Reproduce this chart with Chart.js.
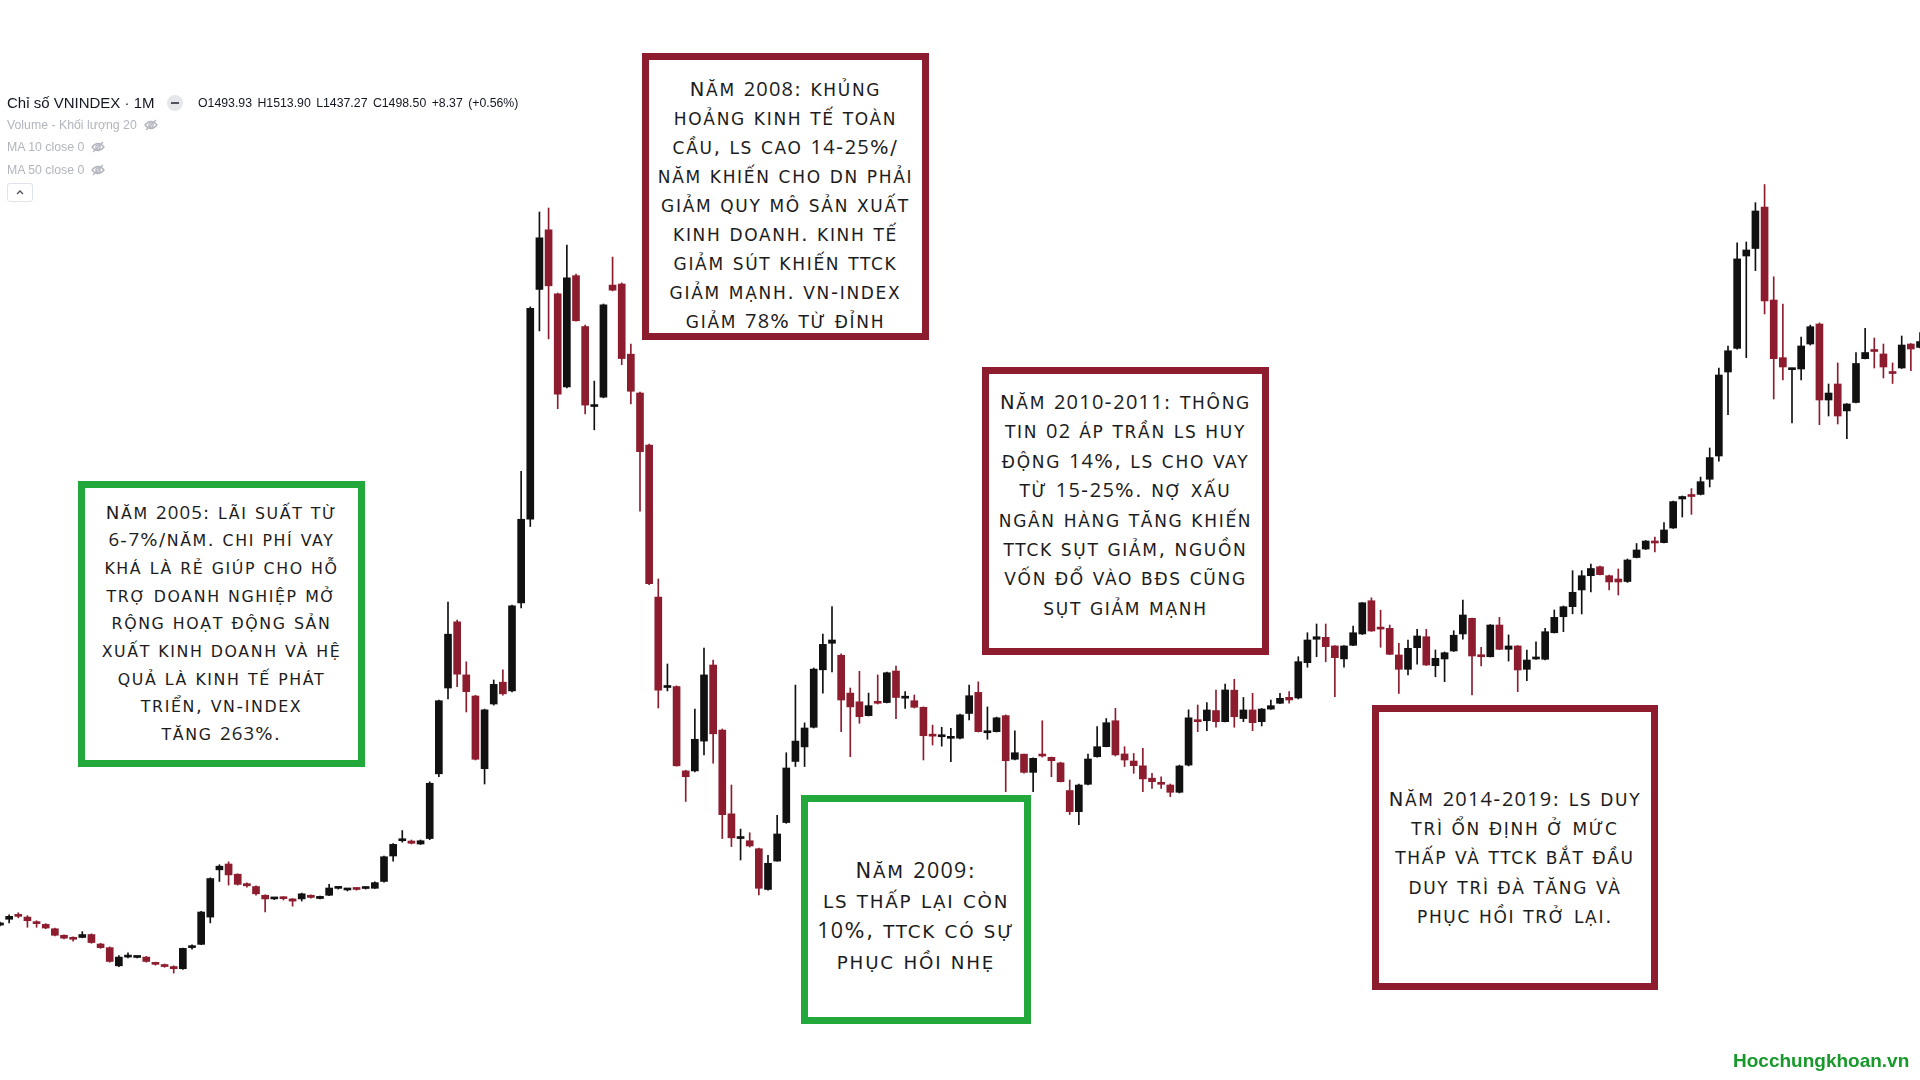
<!DOCTYPE html>
<html lang="vi">
<head>
<meta charset="utf-8">
<title>Chỉ số VNINDEX 1M</title>
<script src="https://cdn.jsdelivr.net/npm/chart.js@4.4.1/dist/chart.umd.min.js"></script>
<style>
  html, body { margin: 0; padding: 0; background: #fff; overflow: hidden; }
  #wrap { position: absolute; left: 0; top: 0; width: 1920px; height: 1080px; }
  .legend { position: absolute; font-family: "Liberation Sans", Arial, sans-serif; white-space: nowrap; }
  .legend.title { left: 7px; top: 94px; font-size: 15px; color: #131722; }
  .legend.ohlc { left: 198px; top: 96px; font-size: 12.3px; color: #131722; word-spacing: 2px; }
  .legend.sub { left: 7px; font-size: 12.3px; color: #b2b5be; }
  .legend svg { vertical-align: -3px; margin-left: 7px; }
  .dot { position: absolute; left: 167px; top: 95px; width: 16px; height: 16px; border-radius: 50%; background: #e6e7ea; }
  .dot::after { content: ""; position: absolute; left: 4px; top: 7px; width: 8px; height: 2px; background: #50535e; }
  .toggle { position: absolute; left: 7px; top: 183px; width: 26px; height: 19px; border: 1px solid #e0e3eb; border-radius: 3px; box-sizing: border-box; }
  .box { position: absolute; box-sizing: border-box; border: 7px solid; background: #fff; }
  .box.red { border-color: #8d1c2e; }
  .box.green { border-color: #23a83c; }
  .txt { position: absolute; left: 0; right: 0; text-align: center; color: #1c1c1c;
         font-family: "DejaVu Sans", sans-serif; font-size: 19.5px; letter-spacing: 1.7px;
         white-space: nowrap; }
  .txt .sc { font-size: 17px; line-height: 0; }
  .txt .num { font-family: "Open Sans", sans-serif; font-size: 20px; letter-spacing: 1.2px; line-height: 0; }
  .txt.small { font-size: 18.2px; letter-spacing: 1.6px; }
  .txt.small .sc { font-size: 15.8px; }
  .txt.small .num { font-size: 18.6px; letter-spacing: 1.1px; }
  .txt.big { font-size: 21px; letter-spacing: 1.8px; }
  .txt.big .sc { font-size: 18.3px; }
  .txt.big .num { font-size: 21.5px; letter-spacing: 1.3px; }
  .mark { position: absolute; left: 1733px; top: 1050px; font-family: "Liberation Sans", Arial, sans-serif;
          font-weight: bold; font-size: 19px; color: #17992b; }
</style>
</head>
<body>
<div id="wrap"><canvas id="chart"></canvas></div>

<div class="legend title">Chỉ số VNINDEX · 1M</div>
<div class="dot"></div>
<div class="legend ohlc">O1493.93 H1513.90 L1437.27 C1498.50 +8.37 (+0.56%)</div>
<div class="legend sub" style="top:118px">Volume - Khối lượng 20<svg width="14" height="14" viewBox="0 0 14 14"><path d="M1 7 Q7 0 13 7 Q7 14 1 7Z" fill="none" stroke="#b2b5be" stroke-width="1.3"/><circle cx="7" cy="7" r="2.2" fill="none" stroke="#b2b5be" stroke-width="1.3"/><path d="M2 12 L12 2" stroke="#b2b5be" stroke-width="1.3"/></svg></div>
<div class="legend sub" style="top:140px">MA 10 close 0<svg width="14" height="14" viewBox="0 0 14 14"><path d="M1 7 Q7 0 13 7 Q7 14 1 7Z" fill="none" stroke="#b2b5be" stroke-width="1.3"/><circle cx="7" cy="7" r="2.2" fill="none" stroke="#b2b5be" stroke-width="1.3"/><path d="M2 12 L12 2" stroke="#b2b5be" stroke-width="1.3"/></svg></div>
<div class="legend sub" style="top:163px">MA 50 close 0<svg width="14" height="14" viewBox="0 0 14 14"><path d="M1 7 Q7 0 13 7 Q7 14 1 7Z" fill="none" stroke="#b2b5be" stroke-width="1.3"/><circle cx="7" cy="7" r="2.2" fill="none" stroke="#b2b5be" stroke-width="1.3"/><path d="M2 12 L12 2" stroke="#b2b5be" stroke-width="1.3"/></svg></div>
<div class="toggle"><svg width="24" height="17" viewBox="0 0 24 17"><path d="M9 10 L12 7 L15 10" fill="none" stroke="#50535e" stroke-width="1.4"/></svg></div>

<div class="box green" style="left:78px; top:481px; width:287px; height:286px;">
  <div class="txt small" style="top:10.5px; line-height:27.7px;">NĂM 2005: LÃI SUẤT TỪ<br>6-7%/NĂM. CHI PHÍ VAY<br>KHÁ LÀ RẺ GIÚP CHO HỖ<br>TRỢ DOANH NGHIỆP MỞ<br>RỘNG HOẠT ĐỘNG SẢN<br>XUẤT KINH DOANH VÀ HỆ<br>QUẢ LÀ KINH TẾ PHÁT<br>TRIỂN, VN-INDEX<br>TĂNG 263%.</div>
</div>

<div class="box red" style="left:642px; top:53px; width:287px; height:287px;">
  <div class="txt" style="top:15px; line-height:29px;">NĂM 2008: KHỦNG<br>HOẢNG KINH TẾ TOÀN<br>CẦU, LS CAO 14-25%/<br>NĂM KHIẾN CHO DN PHẢI<br>GIẢM QUY MÔ SẢN XUẤT<br>KINH DOANH. KINH TẾ<br>GIẢM SÚT KHIẾN TTCK<br>GIẢM MẠNH. VN-INDEX<br>GIẢM 78% TỪ ĐỈNH</div>
</div>

<div class="box green" style="left:801px; top:795px; width:230px; height:229px;">
  <div class="txt big" style="top:54px; line-height:30.2px;">NĂM 2009:<br>LS THẤP LẠI CÒN<br>10%, TTCK CÓ SỰ<br>PHỤC HỒI NHẸ</div>
</div>

<div class="box red" style="left:982px; top:367px; width:287px; height:288px;">
  <div class="txt" style="top:14px; line-height:29.4px;">NĂM 2010-2011: THÔNG<br>TIN 02 ÁP TRẦN LS HUY<br>ĐỘNG 14%, LS CHO VAY<br>TỪ 15-25%. NỢ XẤU<br>NGÂN HÀNG TĂNG KHIẾN<br>TTCK SỤT GIẢM, NGUỒN<br>VỐN ĐỔ VÀO BĐS CŨNG<br>SỤT GIẢM MẠNH</div>
</div>

<div class="box red" style="left:1372px; top:705px; width:286px; height:285px;">
  <div class="txt" style="top:72.5px; line-height:29.4px;">NĂM 2014-2019: LS DUY<br>TRÌ ỔN ĐỊNH Ở MỨC<br>THẤP VÀ TTCK BẮT ĐẦU<br>DUY TRÌ ĐÀ TĂNG VÀ<br>PHỤC HỒI TRỞ LẠI.</div>
</div>

<div class="mark">Hocchungkhoan.vn</div>

<script>
// VN-Index monthly candles, Mar 2002 -> Sep 2019
const startYear = 2002
const startMonth = 3

const opens = [
  184, 192, 197, 195, 188, 185, 179, 170, 166, 167,
  171, 158, 153, 128, 140, 139.5, 140, 132, 129.5, 127,
  124, 153, 157.5, 195, 260, 268, 254, 241, 237, 225,
  220, 221, 220, 220, 225, 220.5, 225, 234.5, 232.3, 233.7,
  234.3, 234.6, 244, 279, 300, 299.6, 295.5, 303, 392, 510,
  601, 528, 499, 399, 488, 518, 506, 627, 742, 1058,
  1140, 1052, 924, 1077, 1007, 897, 910, 1064, 1065.5, 969,
  915.6, 844, 635, 510.7, 512, 396, 396, 437, 541.6, 452,
  337, 303, 300, 289, 233, 272, 325, 409, 429, 456,
  535, 571.5, 555, 503, 491, 472, 491, 490, 533.4, 496,
  492.5, 483.5, 444.5, 443, 440.8, 441, 475, 504, 448.5, 450,
  472, 412, 419, 394, 418, 414.7, 407, 369, 340, 377.6,
  415.5, 429.3, 465, 419.3, 409.6, 403, 386, 380, 376.6, 366.6,
  404, 466, 465, 479, 463.7, 507, 468, 479.8, 463.7, 481,
  489, 497.2, 496.3, 544.8, 577, 579.7, 567.8, 550, 568.7, 584.3,
  630, 592, 592, 555.4, 535.7, 565.4, 580.5, 540.7, 549.9, 560.9,
  584.3, 605.8, 554, 553, 596.6, 563.2, 567.8, 535.7, 549.9, 549.5,
  586, 608, 621.8, 644.8, 664.4, 676.7, 664.4, 659.9, 656.4, 689.4,
  701.1, 712.1, 709.9, 730, 769.9, 774.7, 776.2, 797, 829, 944.5,
  977, 1104, 1114.3, 1171.4, 1043.5, 964.2, 947.7, 948.6, 983, 1010.5,
  906, 928, 891, 902.6, 962.8, 975, 969.3, 943.8, 950, 983,
  978.3
]

const highs = [
  188, 198, 201, 197, 190, 186, 180, 170.5, 168, 175,
  172, 159, 154, 142, 146, 141, 141, 133, 130.5, 128,
  152.5, 157, 203, 249, 267, 271, 254.5, 242, 238, 225.5,
  221.5, 223, 220.5, 228, 225.5, 224, 240, 236, 234.5, 235,
  236.5, 243.5, 279, 296, 314, 301, 301, 381, 493.5, 628,
  603.5, 546, 500, 481, 521, 535, 624, 808, 1034, 1164.5,
  1170, 1053, 1119, 1079, 1009, 932, 1038, 1102.5, 1067, 983,
  917, 845.5, 660, 543, 513, 397, 481, 565, 548.5, 453.6,
  376.6, 316, 311, 290, 280, 335, 421, 514, 462, 537.5,
  584, 622, 557, 510, 533, 503, 528, 532, 540.3, 505,
  500.4, 484, 459, 456, 454.6, 474, 514, 518.5, 484, 470,
  473, 451, 419.3, 414, 465, 415.1, 408, 383.5, 378, 419,
  457, 468, 482, 429.3, 420, 427, 392.7, 388, 378, 404,
  480, 486.6, 490, 507, 515.5, 522, 497, 502.7, 481.8, 493.5,
  502.7, 505, 553, 586, 598, 598, 568.4, 568.4, 595.3, 627.6,
  634, 617, 596.6, 571.5, 576, 590.7, 590.7, 562.3, 559.5, 588.8,
  631, 606.3, 566, 597.3, 607.2, 583, 568.4, 562.3, 573.5, 592,
  617.3, 622.8, 671.3, 671.3, 680.5, 677.8, 665.4, 673.6, 687.4, 708.7,
  712.8, 717.6, 737.6, 767.1, 774, 784.2, 800, 840, 950, 980.3,
  1122, 1123.3, 1177.3, 1202.3, 1075.4, 1038, 950, 992.6, 1009, 1012,
  928, 957, 901.2, 971.3, 1004.4, 991.3, 983, 957, 994, 983.7,
  998.8
]

const lows = [
  183, 187, 194, 181, 181, 179, 169, 165, 162, 166.5,
  159, 152, 133, 127, 139, 139, 133, 129, 126, 118,
  123, 151, 157, 187, 244, 239, 239, 236, 225, 202,
  219, 218.5, 210, 217, 221, 220, 224.5, 233.5, 231, 232,
  233.5, 234.4, 243, 272, 298, 295.5, 294.8, 301.5, 388, 495,
  512, 477, 411, 378, 486.5, 500, 504.5, 620, 732, 1001,
  990, 894, 922.5, 1014.5, 887, 865, 909, 1056, 954.5, 900.5,
  753, 652, 482.5, 506, 402.5, 354, 394.5, 418, 406.5, 303,
  292, 273.5, 291.4, 225.4, 232, 271.8, 324, 402, 402, 455,
  503, 532, 450, 415.5, 461.5, 471.5, 488, 489.4, 468, 482,
  482.5, 411, 431.6, 430, 408.7, 440, 466, 449.5, 439.5, 449.5,
  367.4, 411, 393, 367.4, 415, 388, 380.8, 336, 322, 376.6,
  415, 429, 416.5, 402, 392.7, 367.4, 372, 372, 360.5, 365.6,
  402.8, 450, 451.3, 456, 463.3, 456, 463.7, 451.3, 457.8, 480.4,
  488.4, 489, 494.9, 538.5, 553, 546, 498, 538.5, 568.2, 583.6,
  587.8, 566, 555.8, 502.7, 528, 542.6, 540.9, 525.5, 518.7, 560.2,
  577, 500.4, 540.3, 552.6, 562.7, 547, 505, 520, 549.2, 548.5,
  585.6, 587.4, 612, 611.8, 642, 665.4, 644.8, 637.9, 655.1, 688.8,
  700.4, 697, 709.4, 729.3, 745.1, 748.7, 775.4, 786.4, 822, 886,
  976, 964.2, 1083.9, 1024.3, 907.4, 933.5, 874.4, 933.5, 981.6, 872,
  884, 873, 853, 901.9, 962.4, 950, 936.3, 928.7, 949.3, 946.4,
  977.5
]

const closes = [
  187, 196, 196, 190, 186, 180, 170, 166, 164.5, 171,
  160, 153, 134, 140, 142, 140.5, 134, 130, 127, 124,
  152, 154, 202, 248, 265, 253, 240, 238, 227, 220,
  220.8, 220.3, 217, 227, 222, 223.5, 235, 235.2, 233, 233,
  235.2, 242.4, 278, 295, 301, 296.5, 300, 379, 492.5, 584,
  529, 505, 412, 480, 515, 502, 623, 742, 1032, 1129,
  1063, 914, 1074, 1015, 899, 898, 1037, 1057, 963, 918,
  835, 653.6, 507, 511.4, 403, 388, 439.5, 528, 447, 336,
  304, 303.6, 292.8, 234.6, 269, 309.3, 400, 437, 455, 536,
  570, 576, 493.5, 484, 470.5, 485.7, 489, 531, 497, 497,
  483.5, 444.4, 443.8, 443.5, 441.3, 473, 499.4, 450, 449.3, 469,
  410, 421, 394, 413.3, 416.5, 410, 381.2, 340, 376.6, 412.4,
  429.3, 462.3, 418, 411, 403.2, 385, 381.2, 377.6, 366.6, 402.8,
  469, 463.7, 479.8, 463.7, 507.3, 470.5, 479.8, 462.3, 481.1, 485.7,
  495.8, 493.5, 546.2, 576, 580.5, 566.8, 551.7, 567.8, 586, 627.2,
  588.4, 591, 556.3, 535.7, 564.6, 581.5, 541.6, 550.8, 558.5, 582.5,
  610.4, 554, 553, 596.6, 563.2, 567.8, 534.8, 548.5, 550.6, 587.4,
  607.2, 621.8, 641.6, 664.4, 674.3, 665.8, 655.8, 655.8, 686, 699.8,
  712.1, 709.4, 727.3, 766.3, 773.3, 773.3, 793.7, 826.8, 940.4, 973.7,
  1100, 1112.3, 1165.9, 1042.3, 962.8, 951.4, 948.3, 980.3, 1006.8, 906,
  915.6, 884, 900.5, 956.2, 971.3, 972.7, 951.4, 942.4, 981.6, 976.1,
  986.4
]

const UP_COLOR = '#111111'
const DOWN_COLOR = '#8d1c2e'

// small caps by hand: first letter of each note stays full size, other letters shrink, digits use a narrower face
document.querySelectorAll('.txt').forEach(el => {
  const html = el.innerHTML.trim()
  const rest = html.slice(1).replace(/(<[^>]+>)|(\p{L}+)|(\d+)/gu, (m, tag, word, num) => {
    if (tag) return tag
    if (word) return '<span class="sc">' + word + '</span>'
    return '<span class="num">' + num + '</span>'
  })
  el.innerHTML = html[0] + rest
})

const months = opens.map((_, i) => {
  const m = (startMonth - 1 + i) % 12 + 1
  const y = startYear + Math.floor((startMonth - 1 + i) / 12)
  return 'T' + m + '/' + y
})

const colors = opens.map((o, i) => closes[i] >= o ? UP_COLOR : DOWN_COLOR)

const chart = new Chart(document.getElementById('chart'), {
  type: 'bar',
  data: {
    labels: months,
    datasets: [
      {
        label: 'Thân nến',
        data: opens.map((o, i) => [o, closes[i]]),
        backgroundColor: colors,
        borderWidth: 0,
        barThickness: 7,
        minBarLength: 2,
        grouped: false,
        order: 1
      },
      {
        label: 'Bóng nến',
        data: lows.map((l, i) => [l, highs[i]]),
        backgroundColor: colors,
        borderWidth: 0,
        barThickness: 1,
        grouped: false,
        order: 2
      }
    ]
  },
  options: {
    responsive: true,
    maintainAspectRatio: false,
    animation: false,
    events: [],
    layout: { padding: 0 },
    plugins: {
      legend: { display: false },
      tooltip: { enabled: false }
    },
    scales: {
      x: { type: 'category', offset: false, display: false, grid: { display: false } },
      y: { min: -29, max: 1456, display: false, grid: { display: false } }
    }
  }
})
</script>
</body>
</html>
